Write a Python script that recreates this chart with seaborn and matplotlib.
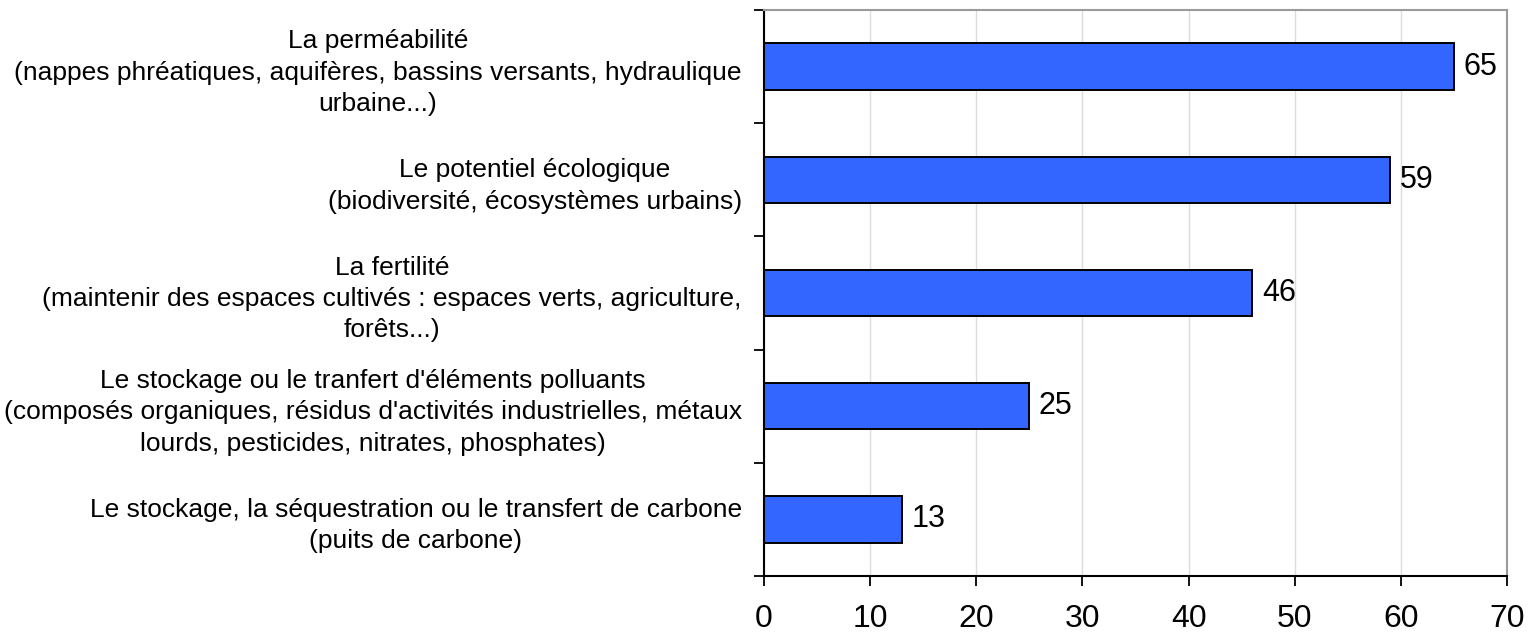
import matplotlib
matplotlib.use("Agg")
import matplotlib.pyplot as plt
import seaborn as sns
import pandas as pd
import numpy as np

categories = [
    "La perméabilité\n(nappes phréatiques, aquifères, bassins versants, hydraulique\nurbaine...)",
    "Le potentiel écologique\n(biodiversité, écosystèmes urbains)",
    "La fertilité\n(maintenir des espaces cultivés : espaces verts, agriculture,\nforêts...)",
    "Le stockage ou le tranfert d'éléments polluants\n(composés organiques, résidus d'activités industrielles, métaux\nlourds, pesticides, nitrates, phosphates)",
    "Le stockage, la séquestration ou le transfert de carbone\n(puits de carbone)",
]
values = [65, 59, 46, 25, 13]
x_ticks = [0, 10, 20, 30, 40, 50, 60, 70]

sns.set_theme(style="white")
plt.rcParams['font.family'] = ['Liberation Sans', 'DejaVu Sans']
plt.rcParams['text.color'] = 'black'
plt.rcParams['xtick.color'] = 'black'
plt.rcParams['ytick.color'] = 'black'

df = pd.DataFrame({"cat": categories, "val": values})

fig = plt.figure(figsize=(15.32, 6.35), dpi=100)
ax = fig.add_axes([764/1532, 1-576/635, (1507-764)/1532, (576-10)/635])

sns.barplot(data=df, y="cat", x="val", order=categories, orient="h",
            color="#3366FF", saturation=1, width=0.41,
            edgecolor="black", linewidth=1.4, ax=ax)

ax.set_xlim(0, 70)
ax.set_ylim(len(categories)-0.5, -0.5)
ax.set_xticks(x_ticks)
ax.set_xticklabels([str(t) for t in x_ticks], fontsize=23, color="black")
ax.set_xlabel("")
ax.set_ylabel("")

ax.set_yticks(range(len(categories)))
ax.set_yticklabels(categories, fontsize=19, multialignment="center", linespacing=1.38, color="black")
ax.tick_params(axis="y", which="major", length=0, pad=16)
ax.set_yticks(np.arange(-0.5, len(categories), 1.0), minor=True)
ax.tick_params(axis="y", which="minor", length=7, width=1.3, color="black", direction="out", left=True)
ax.tick_params(axis="x", which="major", length=7, width=1.3, color="black", direction="out", bottom=True, pad=13)

ax.xaxis.grid(True, color="#dcdcdc", linewidth=1.0)
ax.yaxis.grid(False)
ax.set_axisbelow(True)

for s in ["left", "bottom"]:
    ax.spines[s].set_color("black")
    ax.spines[s].set_linewidth(1.5)
for s in ["top", "right"]:
    ax.spines[s].set_color("#9a9a9a")
    ax.spines[s].set_linewidth(1.5)

for i, v in enumerate(values):
    ax.text(v + 0.9, i, str(v), va="center", ha="left", fontsize=22, color="black")

fig.savefig("out.png", dpi=100)
